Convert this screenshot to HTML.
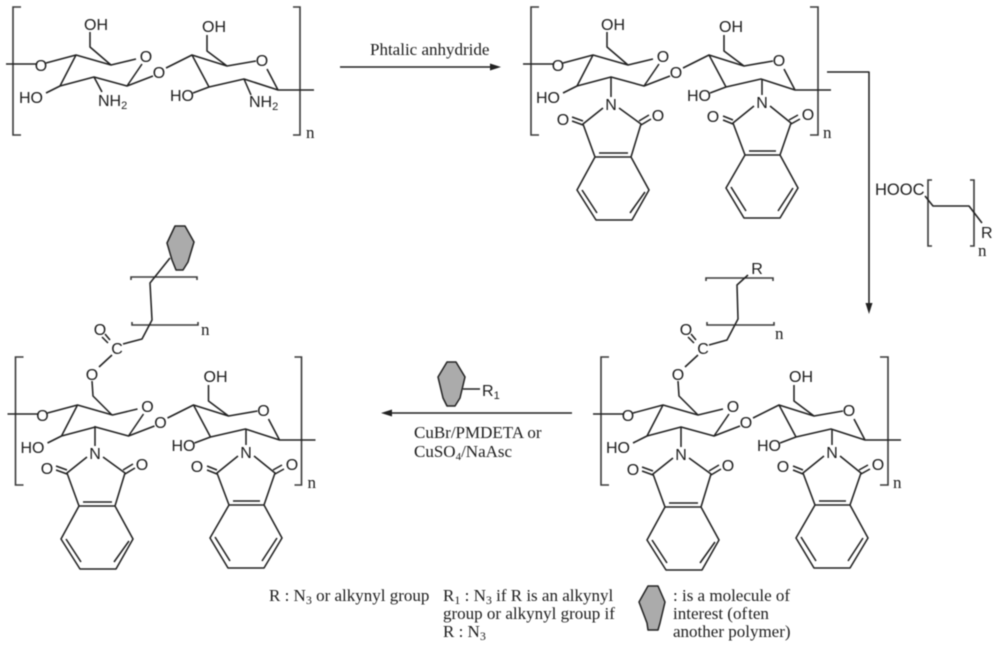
<!DOCTYPE html>
<html><head><meta charset="utf-8"><title>Chitosan grafting scheme</title>
<style>
html,body{margin:0;padding:0;background:#fff;width:1000px;height:645px;overflow:hidden}
svg{display:block;filter:blur(.4px)}
.b{fill:none;stroke:#222;stroke-width:1.55;stroke-linejoin:round}
.k{fill:none;stroke:#3a3a3a;stroke-width:1.6}
.a{font:16px "Liberation Sans",sans-serif;fill:#1c1c1c;text-anchor:middle}
.l{font:16px "Liberation Sans",sans-serif;fill:#1c1c1c}
.s{font:17px "Liberation Serif",serif;fill:#1c1c1c}
.n{font:17px "Liberation Serif",serif;fill:#1c1c1c}
.h{fill:#ababab;stroke:#222;stroke-width:1.5;stroke-linejoin:round}
</style></head><body>
<svg width="1000" height="645" viewBox="0 0 1000 645" xmlns="http://www.w3.org/2000/svg">
<rect width="1000" height="645" fill="#fff"/>

<!-- Molecule 1 -->
<g>
<path class="k" d="M21 7H13V135H21M293 7H300V135H293"/>
<path class="b" d="M6 64H36M46 63L76 55L111 65L136 59M142 64L127 86L94 77L60 86L76 55M60 86L46 93M127 86L153 76M166 68L192 55L227 66L256 61M267 69L278 90L244 79L209 87L192 55M209 87L193 93M278 90H314M227 66L207 51V35M111 65L90 47V32M94 77L102 92M244 79L251 95"/>
<text class="a" x="41" y="71">O</text><text class="a" x="146" y="62">O</text><text class="a" x="159" y="78">O</text><text class="a" x="262" y="66">O</text>
<text class="a" x="31" y="103">HO</text><text class="a" x="182" y="101">HO</text><text class="a" x="96" y="30">OH</text><text class="a" x="214" y="32">OH</text>
<text class="l" x="98" y="106">NH<tspan font-size="11" dy="3">2</tspan></text>
<text class="l" x="249" y="107">NH<tspan font-size="11" dy="3">2</tspan></text>
<text class="n" x="306" y="138">n</text>
</g>

<!-- Molecule 2 -->
<g transform="translate(517,0)">
<path class="k" d="M22 7H14V135H22M293 7H301V135H293"/>
<path class="b" d="M6 64H36M46 63L76 55L111 65L136 59M142 64L127 86L94 77L60 86L76 55M60 86L46 93M127 86L153 76M166 68L192 55L227 66L256 61M267 69L278 90L244 79L209 87L192 55M209 87L193 93M278 90H314M227 66L207 51V35M111 65L90 47V32"/>
<text class="a" x="41" y="71">O</text><text class="a" x="146" y="62">O</text><text class="a" x="159" y="78">O</text><text class="a" x="262" y="66">O</text>
<text class="a" x="31" y="103">HO</text><text class="a" x="182" y="101">HO</text><text class="a" x="96" y="30">OH</text><text class="a" x="214" y="32">OH</text>
<text class="n" x="306" y="138">n</text>
</g>
<g transform="translate(611,104)">
<path class="b" d="M0 -27V-7M-8 4L-28 20L-16 53H20L30 20L8 4M-12 49H17M-16 53L-34 86L-15 116H21L38 86L20 53M-29 86L-14 109M34 88L19 109M-28 21L-39 17M-28 17L-39 13M30 21L40 15M28 17L38 11"/>
<text class="a" x="0" y="6">N</text><text class="a" x="-48" y="21">O</text><text class="a" x="47" y="17">O</text>
</g>
<g transform="translate(762,102)">
<path class="b" d="M0 -23V-7M-8 4L-29 21L-17 53H18L29 21L8 4M-13 49H14M-17 53L-36 86L-18 116H18L36 86L18 53M-31 85L-16 109M31 86L16 109M-29 22L-39 18M-29 18L-39 14M29 22L38 17M27 18L36 13"/>
<text class="a" x="0" y="6">N</text><text class="a" x="-49" y="20">O</text><text class="a" x="46" y="18">O</text>
</g>

<!-- Molecule 3 -->
<g transform="translate(1.5,350)">
<path class="k" d="M22 7H14V135H22M293 7H300V135H293"/>
<path class="b" d="M6 64H36M46 63L76 55L111 65L136 59M142 64L127 86L94 77L60 86L76 55M60 86L46 93M127 86L153 76M166 68L192 55L227 66L256 61M267 69L278 90L244 79L209 87L192 55M209 87L193 93M278 90H314M227 66L207 51V35"/>
<text class="a" x="41" y="71">O</text><text class="a" x="146" y="62">O</text><text class="a" x="159" y="78">O</text><text class="a" x="262" y="66">O</text>
<text class="a" x="31" y="103">HO</text><text class="a" x="182" y="101">HO</text><text class="a" x="214" y="32">OH</text>
<text class="n" x="306" y="138">n</text>
</g>
<g transform="translate(95,453)">
<path class="b" d="M0 -27V-7M-8 4L-28 20L-16 53H20L30 20L8 4M-12 49H17M-16 53L-34 86L-15 116H21L38 86L20 53M-29 86L-14 109M34 88L19 109M-28 21L-39 17M-28 17L-39 13M30 21L40 15M28 17L38 11"/>
<text class="a" x="0" y="6">N</text><text class="a" x="-48" y="21">O</text><text class="a" x="47" y="17">O</text>
</g>
<g transform="translate(246,452)">
<path class="b" d="M0 -23V-7M-8 4L-29 21L-17 53H18L29 21L8 4M-13 49H14M-17 53L-36 86L-18 116H18L36 86L18 53M-31 85L-16 109M31 86L16 109M-29 22L-39 18M-29 18L-39 14M29 22L38 17M27 18L36 13"/>
<text class="a" x="0" y="6">N</text><text class="a" x="-49" y="20">O</text><text class="a" x="46" y="18">O</text>
</g>
<!-- Molecule 3 side chain -->
<path class="k" d="M131 280V277H197V280M132 322V325H198V322"/>
<path class="b" d="M170 258L150 283L152 320L142 339L123 344M112 355L99 367M92 381L93 396L112 415M110 340L105 334M108 343L102 337"/>
<polygon class="h" points="175,226 185,226 194,242 188,262 183,270 176,270 172,260 167,243"/>
<text class="a" x="117" y="354">C</text><text class="a" x="100" y="335">O</text><text class="a" x="92" y="380">O</text>
<text class="n" x="201" y="335">n</text>

<!-- Molecule 4 -->
<g transform="translate(587,350)">
<path class="k" d="M22 7H14V135H22M293 7H301V135H293"/>
<path class="b" d="M6 64H36M46 63L76 55L111 65L136 59M142 64L127 86L94 77L60 86L76 55M60 86L46 93M127 86L153 76M166 68L192 55L227 66L256 61M267 69L278 90L244 79L209 87L192 55M209 87L193 93M278 90H314M227 66L207 51V35"/>
<text class="a" x="41" y="71">O</text><text class="a" x="146" y="62">O</text><text class="a" x="159" y="78">O</text><text class="a" x="262" y="66">O</text>
<text class="a" x="31" y="103">HO</text><text class="a" x="182" y="101">HO</text><text class="a" x="214" y="32">OH</text>
<text class="n" x="306" y="138">n</text>
</g>
<g transform="translate(681,454)">
<path class="b" d="M0 -27V-7M-8 4L-28 20L-16 53H20L30 20L8 4M-12 49H17M-16 53L-34 86L-15 116H21L38 86L20 53M-29 86L-14 109M34 88L19 109M-28 21L-39 17M-28 17L-39 13M30 21L40 15M28 17L38 11"/>
<text class="a" x="0" y="6">N</text><text class="a" x="-48" y="21">O</text><text class="a" x="47" y="17">O</text>
</g>
<g transform="translate(832,452)">
<path class="b" d="M0 -23V-7M-8 4L-29 21L-17 53H18L29 21L8 4M-13 49H14M-17 53L-36 86L-18 116H18L36 86L18 53M-31 85L-16 109M31 86L16 109M-29 22L-39 18M-29 18L-39 14M29 22L38 17M27 18L36 13"/>
<text class="a" x="0" y="6">N</text><text class="a" x="-49" y="20">O</text><text class="a" x="46" y="18">O</text>
</g>
<!-- Molecule 4 side chain -->
<path class="k" d="M706 281V278H773V281M707 322V325H774V322"/>
<path class="b" d="M748 275L737 285L738 319L727 340L709 345M698 355L685 367M678 381L679 396L698 415M696 340L691 334M694 343L688 337"/>
<text class="a" x="757" y="274">R</text>
<text class="a" x="703" y="354">C</text><text class="a" x="686" y="335">O</text><text class="a" x="678" y="380">O</text>
<text class="n" x="775" y="339">n</text>

<!-- Top arrow -->
<path class="b" d="M340 67H492"/><polygon points="501,67 490,63.5 490,70.5" fill="#222"/>
<text class="s" x="370" y="55">Phtalic anhydride</text>

<!-- Right arrow -->
<path class="b" d="M827 72H869V304"/><polygon points="869,314 865.5,303 872.5,303" fill="#222"/>
<text class="l" x="875" y="195" style="font-size:16.5px">HOOC</text>
<path class="k" d="M932 180H928V246H932M970 180H974V246H970"/>
<path class="b" d="M925 196L933 206H969L982 223"/>
<text class="l" x="981" y="238">R</text>
<text class="n" x="978" y="256">n</text>

<!-- Left arrow -->
<path class="b" d="M572 413H390"/><polygon points="381,413 392,409.5 392,416.5" fill="#222"/>
<polygon class="h" points="447,362 456,362 465,377 460,398 455,406 447,406 443,398 438,377"/>
<path class="b" d="M463 389H480"/>
<text class="l" x="482" y="396">R<tspan font-size="11" dy="3">1</tspan></text>
<text class="s" x="414" y="438">CuBr/PMDETA or</text>
<text class="s" x="414" y="457">CuSO<tspan font-size="11" dy="3">4</tspan><tspan dy="-3">/NaAsc</tspan></text>

<!-- Legend -->
<text class="s" x="269" y="601">R : N<tspan font-size="12" dy="3">3</tspan><tspan dy="-3"> or alkynyl group</tspan></text>
<text class="s" x="443" y="601">R<tspan font-size="12" dy="3">1</tspan><tspan dy="-3"> : N</tspan><tspan font-size="12" dy="3">3</tspan><tspan dy="-3"> if R is an alkynyl</tspan></text>
<text class="s" x="443" y="619">group or alkynyl group if</text>
<text class="s" x="443" y="637">R : N<tspan font-size="12" dy="3">3</tspan></text>
<polygon class="h" points="648,586 658,586 665,602 660,623 658,630 648,630 647,623 639,602"/>
<text class="s" x="673" y="601">: is a molecule of</text>
<text class="s" x="673" y="619">interest (of<tspan dx="1">ten</tspan></text>
<text class="s" x="673" y="637">another polymer)</text>
</svg>
</body></html>
